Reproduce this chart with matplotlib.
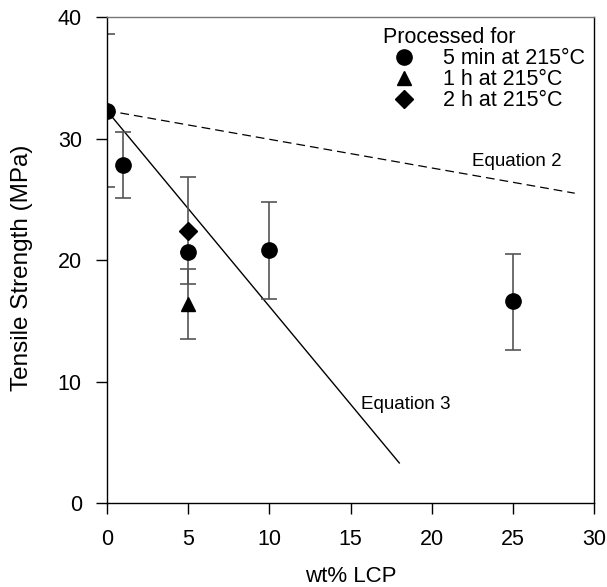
import matplotlib
matplotlib.use("Agg")
import matplotlib.pyplot as plt

plt.rcParams['font.family'] = ['Liberation Sans', 'DejaVu Sans']

# 5 min at 215 C
x_5min = [0, 1, 5, 10, 25]
y_5min = [32.3, 27.8, 20.7, 20.8, 16.6]
err_lo_5min = [6.3, 2.7, 0.0, 4.0, 4.0]
err_hi_5min = [6.3, 2.7, 0.0, 4.0, 3.9]

# 1 h at 215 C
x_1h = [5]
y_1h = [16.4]
err_1h = [2.9]

# 2 h at 215 C
x_2h = [5]
y_2h = [22.4]
err_lo_2h = [4.4]
err_hi_2h = [4.4]

# model lines
eq2_x = [0, 28.8]
eq2_y = [32.3, 25.5]
eq3_x = [0, 18.0]
eq3_y = [32.3, 3.3]

fig = plt.figure(figsize=(6.07, 5.87), dpi=100)
ax = fig.add_axes([0.176, 0.143, 0.803, 0.828])

ax.plot(eq2_x, eq2_y, color='black', lw=0.9, ls=(0, (7, 4)))
ax.plot(eq3_x, eq3_y, color='black', lw=1.0)

ebar = dict(ecolor='#555555', elinewidth=1.2, capsize=6, capthick=1.2, ls='none')
ax.errorbar(x_5min, y_5min, yerr=[err_lo_5min, err_hi_5min], fmt='o', color='black',
            ms=11, label='5 min at 215°C', **ebar)
ax.errorbar(x_1h, y_1h, yerr=err_1h, fmt='^', color='black',
            ms=10, label='1 h at 215°C', **ebar)
ax.errorbar(x_2h, y_2h, yerr=[err_lo_2h, err_hi_2h], fmt='D', color='black',
            ms=9, label='2 h at 215°C', **ebar)

ax.text(25.25, 28.15, 'Equation 2', fontsize=13.5, ha='center', va='center')
ax.text(18.4, 8.1, 'Equation 3', fontsize=13.5, ha='center', va='center')

ax.set_xlim(0, 30)
ax.set_ylim(0, 40)
ax.set_xticks([0, 5, 10, 15, 20, 25, 30])
ax.set_yticks([0, 10, 20, 30, 40])
ax.tick_params(direction='out', length=8, width=1, labelsize=15.5, pad=10)
ax.tick_params(axis='x', pad=11)
for s in ax.spines.values():
    s.set_linewidth(1.0)
ax.spines['top'].set_color('#777777')

ax.set_xlabel('wt% LCP', fontsize=16, va='center')
ax.xaxis.set_label_coords(0.5, -0.152)
ax.set_ylabel('Tensile Strength (MPa)', fontsize=17.5, va='center')
ax.yaxis.set_label_coords(-0.175, 0.484)

handles, labels = ax.get_legend_handles_labels()
handles = [h[0] for h in handles]
leg = ax.legend(handles, labels, title='Processed for', loc='upper right',
                bbox_to_anchor=(1.012, 1.01), frameon=False, fontsize=15.5,
                title_fontsize=15.5, handletextpad=0.8, labelspacing=0.0,
                borderaxespad=0.3)
leg._legend_box.align = 'left'

fig.savefig('out.png', dpi=100)
